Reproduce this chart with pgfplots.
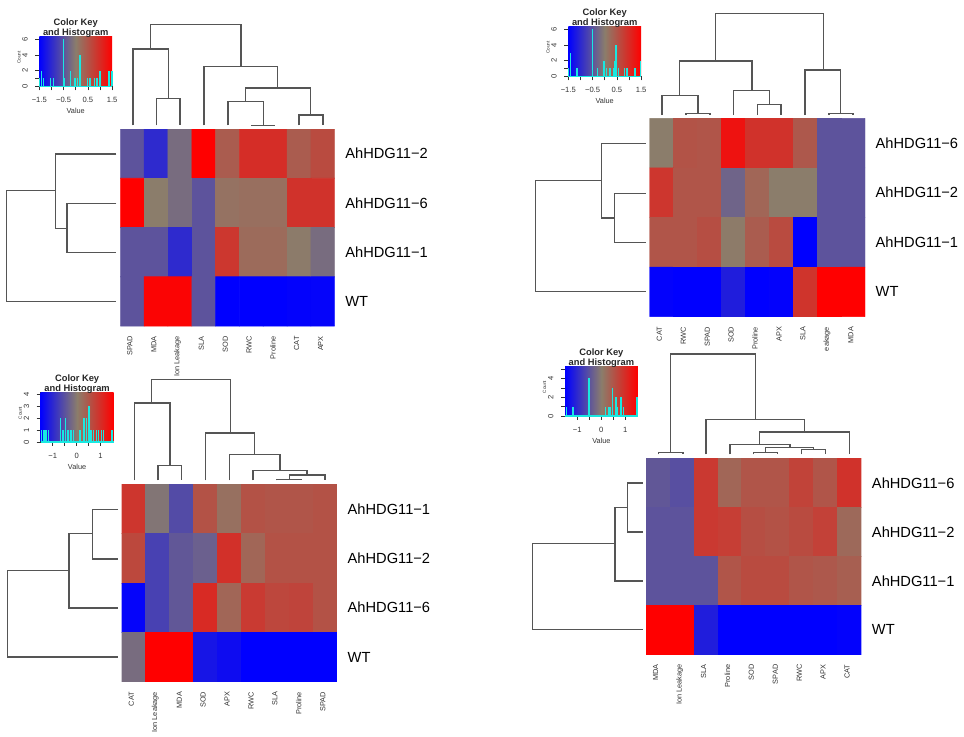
\documentclass[border=0pt]{standalone}
\usepackage{fontspec}
\setmainfont{Liberation Sans}
\usepackage{pgfplots}
\pgfplotsset{compat=1.18}

\def\U{0.75pt} % one reference pixel
\definecolor{keymid}{RGB}{139,125,107}
\definecolor{dendro}{RGB}{85,85,85}
\definecolor{histc}{RGB}{25,232,225}
\definecolor{smalltxt}{RGB}{50,50,50}

\pgfplotsset{
  colormap={rkey}{rgb255=(0,0,255) rgb255=(139,125,107) rgb255=(255,0,0)},
  heat/.style n args={4}{
    at={({#1*\U},{-#2*\U})}, anchor=north west,
    scale only axis, width={(#3-#1)*\U}, height={(#4-#2)*\U},
    xmin=-0.5, xmax=8.5, ymin=-0.5, ymax=3.5, y dir=reverse,
    colormap name=rkey, point meta min=-1.5, point meta max=1.5,
    axis line style={draw=none}, tick style={draw=none},
    xtick={0,...,8}, ytick={0,...,3}, yticklabel pos=right,
    xticklabel style={font=\fontsize{5.5}{6}\selectfont, text=smalltxt, inner sep=0pt, rotate=90, anchor=east, yshift=1.7pt},
    yticklabel style={font=\fontsize{11}{13}\selectfont, text=black, inner sep=0pt, anchor=west},
    xticklabel shift=7.5pt, yticklabel shift=7.8pt,
  },
  heatcells/.style={matrix plot*, mesh/cols=9, point meta=explicit},
  keyaxis/.style 2 args={
    at={({#1*\U},{-#2*\U})}, anchor=north west,
    scale only axis, width={72.8*\U}, height={49.6*\U}, clip=false,
    axis x line*=bottom, axis y line*=left,
    axis line style={draw=smalltxt, line width=0.4pt},
    tick align=outside, tick style={draw=smalltxt, line width=0.4pt},
    major tick length=3pt, ymin=0,
    xticklabel style={font=\fontsize{5.7}{6}\selectfont, text=smalltxt, inner sep=0pt},
    yticklabel style={font=\fontsize{5.7}{6}\selectfont, text=smalltxt, inner sep=0pt, rotate=90, anchor=south},
    xticklabel shift=5.3pt, yticklabel shift=5.5pt,
    xlabel={Value}, ylabel={Count},
    every axis x label/.style={at={(axis description cs:0.5,-0.5)}, anchor=center, font=\fontsize{5.5}{6}\selectfont, text=smalltxt},
    every axis y label/.style={at={(axis description cs:-0.28,0.58)}, anchor=center, rotate=90, font=\fontsize{3.5}{4}\selectfont, text=smalltxt},
  },
  spikes/.style={ycomb, draw=histc, line width=1.1pt, mark=none},
  dend/.style={draw=dendro, line width=0.95pt, mark=none, forget plot},
}

% colour ramp behind a histogram, and its two-line title on top
\newcommand{\keyramp}{\shade[left color=blue, right color=red, middle color=keymid] (rel axis cs:0,0) rectangle (rel axis cs:1,1);}
\newcommand{\keytitle}{%
  \node[font=\fontsize{7}{8}\selectfont\bfseries, text=black!85] at (rel axis cs:0.5,1.268) {Color Key};
  \node[font=\fontsize{7}{8}\selectfont\bfseries, text=black!85] at (rel axis cs:0.5,1.068) {and Histogram};}
\newcommand{\keybase}[2]{\addplot[histc, line width=0.9pt, mark=none] coordinates {(#1,0) (#2,0)};}
% merges of a dendrogram: top trees (x1,y1,x2,y2,ytop), left trees (y1,x1,y2,x2,xleft)
\newcommand{\mergev}[5]{\addplot[dend] coordinates {(#1,#2) (#1,#5) (#3,#5) (#3,#4)};}
\newcommand{\mergeh}[5]{\addplot[dend] coordinates {(#2,#1) (#5,#1) (#5,#3) (#4,#3)};}

\begin{document}
\begin{tikzpicture}
\path[use as bounding box] (0,0) rectangle (723pt,-552pt);

% ---------- heat maps
\begin{axis}[heat={120.3}{129}{334.7}{326},
  xticklabels={SPAD,MDA,Ion Leakage,SLA,SOD,RWC,Proline,CAT,APX},
  yticklabels={AhHDG11−2,AhHDG11−6,AhHDG11−1,WT}]
\addplot[heatcells] coordinates {
(0,0)[-0.5] (1,0)[-1.0] (2,0)[-0.2] (3,0)[1.5] (4,0)[0.4] (5,0)[0.96] (6,0)[0.96] (7,0)[0.4] (8,0)[0.6]
(0,1)[1.5] (1,1)[0.0] (2,1)[-0.2] (3,1)[-0.5] (4,1)[0.13] (5,1)[0.17] (6,1)[0.17] (7,1)[0.9] (8,1)[0.9]
(0,2)[-0.5] (1,2)[-0.5] (2,2)[-1.0] (3,2)[-0.5] (4,2)[0.84] (5,2)[0.22] (6,2)[0.22] (7,2)[0.02] (8,2)[-0.2]
(0,3)[-0.5] (1,3)[1.45] (2,3)[1.45] (3,3)[-0.5] (4,3)[-1.5] (5,3)[-1.5] (6,3)[-1.5] (7,3)[-1.47] (8,3)[-1.45]
};
\end{axis}

\begin{axis}[heat={649.7}{118.3}{865}{316.7},
  xticklabels={CAT,RWC,SPAD,SOD,Proline,APX,SLA,eakage,MDA},
  yticklabels={AhHDG11−6,AhHDG11−2,AhHDG11−1,WT}]
\addplot[heatcells] coordinates {
(0,0)[0.0] (1,0)[0.5] (2,0)[0.48] (3,0)[1.28] (4,0)[0.9] (5,0)[0.9] (6,0)[0.44] (7,0)[-0.5] (8,0)[-0.5]
(0,1)[0.85] (1,1)[0.48] (2,1)[0.48] (3,1)[-0.3] (4,1)[0.28] (5,1)[0.0] (6,1)[0.0] (7,1)[-0.5] (8,1)[-0.5]
(0,2)[0.48] (1,2)[0.48] (2,2)[0.56] (3,2)[0.03] (4,2)[0.4] (5,2)[0.6] (6,2)[-1.5] (7,2)[-0.5] (8,2)[-0.5]
(0,3)[-1.47] (1,3)[-1.5] (2,3)[-1.5] (3,3)[-1.15] (4,3)[-1.5] (5,3)[-1.47] (6,3)[0.88] (7,3)[1.5] (8,3)[1.5]
};
\end{axis}

\begin{axis}[heat={121.7}{484.3}{337}{681.7},
  xticklabels={CAT,Ion Leakage,MDA,SOD,APX,RWC,SLA,Proline,SPAD},
  yticklabels={AhHDG11−1,AhHDG11−2,AhHDG11−6,WT}]
\addplot[heatcells] coordinates {
(0,0)[0.85] (1,0)[-0.1] (2,0)[-0.6] (3,0)[0.52] (4,0)[0.16] (5,0)[0.52] (6,0)[0.48] (7,0)[0.48] (8,0)[0.52]
(0,1)[0.64] (1,1)[-0.72] (2,1)[-0.45] (3,1)[-0.35] (4,1)[0.92] (5,1)[0.28] (6,1)[0.52] (7,1)[0.52] (8,1)[0.52]
(0,2)[-1.45] (1,2)[-0.72] (2,2)[-0.45] (3,2)[1.0] (4,2)[0.28] (5,2)[0.8] (6,2)[0.65] (7,2)[0.68] (8,2)[0.52]
(0,3)[-0.2] (1,3)[1.5] (2,3)[1.5] (3,3)[-1.25] (4,3)[-1.35] (5,3)[-1.5] (6,3)[-1.5] (7,3)[-1.5] (8,3)[-1.5]
};
\end{axis}

\begin{axis}[heat={646}{458.3}{861.3}{654.3},
  xticklabels={MDA,Ion Leakage,SLA,Proline,SOD,SPAD,RWC,APX,CAT},
  yticklabels={AhHDG11−6,AhHDG11−2,AhHDG11−1,WT}]
\addplot[heatcells] coordinates {
(0,0)[-0.45] (1,0)[-0.55] (2,0)[0.82] (3,0)[0.28] (4,0)[0.48] (5,0)[0.48] (6,0)[0.7] (7,0)[0.48] (8,0)[0.9]
(0,1)[-0.5] (1,1)[-0.5] (2,1)[0.82] (3,1)[0.76] (4,1)[0.56] (5,1)[0.52] (6,1)[0.6] (7,1)[0.72] (8,1)[0.24]
(0,2)[-0.5] (1,2)[-0.5] (2,2)[-0.5] (3,2)[0.48] (4,2)[0.6] (5,2)[0.6] (6,2)[0.48] (7,2)[0.44] (8,2)[0.36]
(0,3)[1.5] (1,3)[1.5] (2,3)[-1.15] (3,3)[-1.5] (4,3)[-1.5] (5,3)[-1.5] (6,3)[-1.5] (7,3)[-1.5] (8,3)[-1.47]
};
\end{axis}

% ---------- colour keys with histograms
\begin{axis}[keyaxis={39.3}{36.7}, xmin=-1.5, xmax=1.5, ymax=6.33,
  xtick={-1.5,-1,...,1.5}, xticklabels={−1.5,,−0.5,,0.5,,1.5},
  ytick={0,1,2,4,6}, yticklabels={0,,2,4,6}]
\keyramp
\addplot[spikes] coordinates {(-1.5,1) (-1.417,2) (-1.32,1) (-1.03,1) (-0.92,1) (-0.51,6) (-0.47,1) (-0.22,2) (-0.03,1)
  (0.07,1) (0.18,4) (0.48,1) (0.59,1) (0.78,1) (0.88,1) (1.0,2) (1.38,2) (1.5,2)};
\keybase{-1.5}{1.5}
\keytitle
\end{axis}

\begin{axis}[keyaxis={568.3}{26.7}, xmin=-1.5, xmax=1.5, ymax=6.33,
  xtick={-1.5,-1,...,1.5}, xticklabels={−1.5,,−0.5,,0.5,,1.5},
  ytick={0,1,2,4,6}, yticklabels={0,,2,4,6}]
\keyramp
\addplot[spikes] coordinates {(-1.49,1) (-1.42,3) (-1.14,1) (-0.51,6) (-0.30,1) (-0.06,1) (-0.03,2) (0.08,1) (0.22,1)
  (0.36,1) (0.43,2) (0.47,4) (0.56,1) (0.81,1) (0.92,1) (1.25,1) (1.47,2)};
\keybase{-1.5}{1.5}
\keytitle
\end{axis}

\begin{axis}[keyaxis={40.7}{392.3}, xmin=-1.5, xmax=1.54, ymax=4.2,
  xtick={-1,-0.5,...,1}, xticklabels={−1,,0,,1},
  ytick={0,1,2,3,4}, yticklabels={0,1,2,3,4}]
\keyramp
\addplot[spikes] coordinates {(-1.46,1) (-1.36,1) (-1.28,1) (-1.18,1) (-0.68,2) (-0.57,1) (-0.47,2) (-0.36,1) (-0.24,1)
  (-0.14,1) (0.14,1) (0.31,2) (0.42,2) (0.51,3) (0.61,1) (0.71,1) (0.82,1) (0.92,1) (1.03,1) (1.13,1) (1.47,1)};
\keybase{-1.5}{1.54}
\keytitle
\end{axis}

\begin{axis}[keyaxis={565}{366.3}, xmin=-1.51, xmax=1.53, ymax=5.29,
  xtick={-1,-0.5,...,1}, xticklabels={−1,,0,,1},
  ytick={0,1,2,3,4,5}, yticklabels={0,,2,,4,}]
\keyramp
\addplot[spikes] coordinates {(-1.44,1) (-1.18,1) (-0.53,2) (-0.5,4) (0.19,1) (0.33,1) (0.40,1) (0.47,3) (0.61,2)
  (0.67,1) (0.82,2) (0.93,1) (1.5,2)};
\keybase{-1.51}{1.53}
\keytitle
\end{axis}

% ---------- dendrograms, in reference pixels
\begin{axis}[at={(0,0)}, anchor=north west, scale only axis, width=723pt, height=552pt,
  xmin=0, xmax=964, ymin=0, ymax=736, y dir=reverse, hide axis, clip=false]
% top left
\mergev{150.3}{49}{241}{66.3}{24.3}
\mergev{133}{125.3}{168.3}{98.3}{49}
\mergev{156.7}{125.3}{180}{125.3}{98.3}
\mergev{204}{125.3}{277.7}{88}{66.3}
\mergev{245.3}{101.7}{310.7}{115}{88}
\mergev{228}{125.3}{263.7}{125.3}{101.7}
\mergev{251}{125.3}{275.3}{125.3}{125.3}
\mergev{299}{125.3}{323}{125.3}{115}
\mergeh{190.7}{55.7}{301.7}{116.3}{6.3}
\mergeh{154}{116.3}{228.3}{67}{55.7}
\mergeh{203.3}{116.3}{252.7}{116.3}{67}
% top right
\mergev{715.3}{61}{823.3}{70}{13.7}
\mergev{679.7}{95.7}{752}{90.7}{61}
\mergev{662}{115}{698}{113.7}{95.7}
\mergev{686}{115}{710}{115}{113.7}
\mergev{733.7}{115}{769.3}{104.3}{90.7}
\mergev{757.3}{115}{781}{115}{104.3}
\mergev{805}{115}{840.7}{113.7}{70}
\mergev{829}{115}{853}{115}{113.7}
\mergeh{180.7}{601.7}{291.7}{645.7}{535.3}
\mergeh{143.7}{645.7}{218}{614.7}{601.7}
\mergeh{193.3}{645.7}{242.3}{645.7}{614.7}
% bottom left
\mergev{151.7}{403}{230.3}{433}{379.7}
\mergev{134.3}{480.3}{170}{465.7}{403}
\mergev{158}{480.3}{181.7}{480.3}{465.7}
\mergev{205.7}{480.3}{254.3}{454.7}{433}
\mergev{229.7}{480.3}{280}{470.3}{454.7}
\mergev{253}{480.3}{307}{475}{470.3}
\mergev{289.3}{479.3}{325}{480.3}{475}
\mergev{277}{480.3}{301.3}{480.3}{479.3}
\mergeh{570.7}{69}{657}{118}{7.7}
\mergeh{533.7}{92.7}{608}{118}{69}
\mergeh{509.3}{118}{559}{118}{92.7}
% bottom right
\mergev{670.3}{452.7}{755.7}{419.7}{354}
\mergev{658.3}{454.3}{683}{454.3}{452.7}
\mergev{706}{454.3}{804.3}{432}{419.7}
\mergev{759.7}{444.3}{849.3}{454.3}{432}
\mergev{730}{454.3}{790}{447.7}{444.3}
\mergev{765.3}{452.3}{813.7}{449.3}{447.7}
\mergev{753.7}{454.3}{777.3}{454.3}{452.3}
\mergev{801.7}{454.3}{825.3}{454.3}{449.3}
\mergeh{543.7}{615}{629.7}{642.7}{532.3}
\mergeh{507.3}{627.3}{581}{642.7}{615}
\mergeh{483}{642.7}{532}{642.7}{627.3}
\end{axis}
\end{tikzpicture}
\end{document}
